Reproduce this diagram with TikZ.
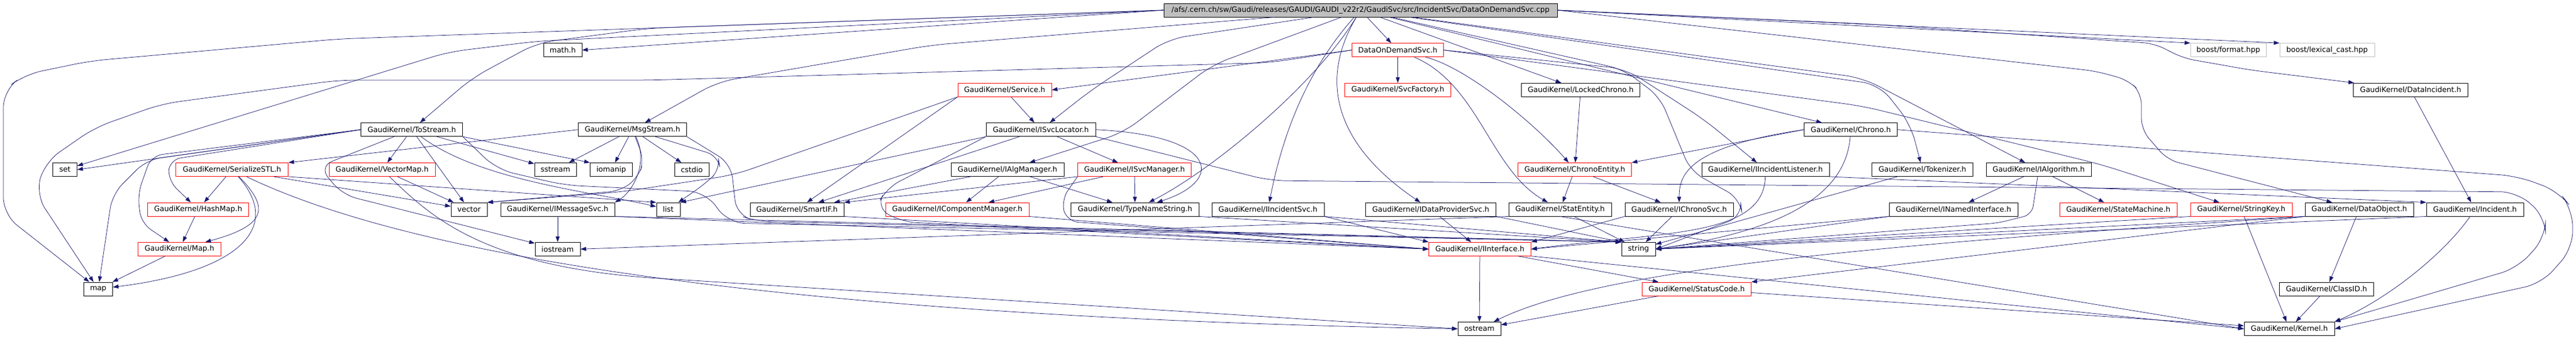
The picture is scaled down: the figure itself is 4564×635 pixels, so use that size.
\documentclass[tikz,border=0pt]{standalone}
\usepackage{fontspec}
\setmainfont{DejaVu Sans}
\usetikzlibrary{arrows.meta}
\definecolor{edgeblue}{RGB}{25,25,112}
\definecolor{topgray}{RGB}{191,191,191}
\tikzset{
  hdr/.style={draw=black, line width=0.9pt, inner sep=0pt, minimum height=24pt},
  redhdr/.style={hdr, draw=red},
  syshdr/.style={hdr, draw=topgray},
  inc/.style={draw=edgeblue, line width=0.75pt, -{Triangle[length=10pt,width=7pt]}}
}

\begin{document}
\begin{tikzpicture}[x=1pt, y=-1pt, font=\fontsize{13}{15}\selectfont]
\useasboundingbox (0,0) rectangle (4564,635);
% file itself
\node[hdr, fill=topgray, minimum width=697pt] (top) at (2410.5,18) {/afs/.cern.ch/sw/Gaudi/releases/GAUDI/GAUDI\_v22r2/GaudiSvc/src/IncidentSvc/DataOnDemandSvc.cpp};
% row 1
\node[hdr, minimum width=68pt] (mathh) at (997,88.7) {math.h};
\node[redhdr, minimum width=162pt] (dods) at (2476.5,88.7) {DataOnDemandSvc.h};
\node[syshdr, minimum width=134pt] (bformat) at (3948,88.7) {boost/format.hpp};
\node[syshdr, minimum width=168pt] (blexical) at (4123,88.7) {boost/lexical\_cast.hpp};
% row 2
\node[redhdr, minimum width=166pt] (service) at (1780,159.3) {GaudiKernel/Service.h};
\node[redhdr, minimum width=188pt] (svcfactory) at (2476.5,159.3) {GaudiKernel/SvcFactory.h};
\node[hdr, minimum width=210pt] (lockedchrono) at (2800.5,159.3) {GaudiKernel/LockedChrono.h};
\node[hdr, minimum width=203pt] (dataincident) at (4271,159.3) {GaudiKernel/DataIncident.h};
% row 3
\node[hdr, minimum width=180pt] (tostream) at (729.5,229.7) {GaudiKernel/ToStream.h};
\node[hdr, minimum width=192pt] (msgstream) at (1120.5,229.7) {GaudiKernel/MsgStream.h};
\node[hdr, minimum width=194pt] (isvclocator) at (1844,229.7) {GaudiKernel/ISvcLocator.h};
\node[hdr, minimum width=165pt] (chrono) at (3279,229.7) {GaudiKernel/Chrono.h};
% row 4
\node[hdr, minimum width=43pt] (set) at (115,300.5) {set};
\node[redhdr, minimum width=199pt] (serializestl) at (411,300.5) {GaudiKernel/SerializeSTL.h};
\node[redhdr, minimum width=188pt] (vectormap) at (677,300.5) {GaudiKernel/VectorMap.h};
\node[hdr, minimum width=74pt] (sstream) at (984,300.5) {sstream};
\node[hdr, minimum width=75pt] (iomanip) at (1083,300.5) {iomanip};
\node[hdr, minimum width=61pt] (cstdio) at (1225.7,300.5) {cstdio};
\node[hdr, minimum width=200pt] (ialgmanager) at (1785,300.5) {GaudiKernel/IAlgManager.h};
\node[redhdr, minimum width=201pt] (isvcmanager) at (2010,300.5) {GaudiKernel/ISvcManager.h};
\node[redhdr, minimum width=201pt] (chronoentity) at (2790,300.5) {GaudiKernel/ChronoEntity.h};
\node[hdr, minimum width=226pt] (iincidentlistener) at (3128,300.5) {GaudiKernel/IIncidentListener.h};
\node[hdr, minimum width=179pt] (tokenizer) at (3406,300.5) {GaudiKernel/Tokenizer.h};
\node[hdr, minimum width=186pt] (ialgorithm) at (3612,300.5) {GaudiKernel/IAlgorithm.h};
% row 5
\node[redhdr, minimum width=179pt] (hashmap) at (351,371) {GaudiKernel/HashMap.h};
\node[hdr, minimum width=64pt] (vector) at (831,371) {vector};
\node[hdr, minimum width=202pt] (imessagesvc) at (988,371) {GaudiKernel/IMessageSvc.h};
\node[hdr, minimum width=42pt] (list) at (1184,371) {list};
\node[hdr, minimum width=166pt] (smartif) at (1412,371) {GaudiKernel/SmartIF.h};
\node[redhdr, minimum width=254pt] (icomponentmanager) at (1696,371) {GaudiKernel/IComponentManager.h};
\node[hdr, minimum width=227pt] (typenamestring) at (2011,371) {GaudiKernel/TypeNameString.h};
\node[hdr, minimum width=199pt] (iincidentsvc) at (2246.5,371) {GaudiKernel/IIncidentSvc.h};
\node[hdr, minimum width=231pt] (idataprovidersvc) at (2535,371) {GaudiKernel/IDataProviderSvc.h};
\node[hdr, minimum width=182pt] (statentity) at (2764,371) {GaudiKernel/StatEntity.h};
\node[hdr, minimum width=192pt] (ichronosvc) at (2975,371) {GaudiKernel/IChronoSvc.h};
\node[hdr, minimum width=228pt] (inamedinterface) at (3461,371) {GaudiKernel/INamedInterface.h};
\node[redhdr, minimum width=208pt] (statemachine) at (3753,371) {GaudiKernel/StateMachine.h};
\node[redhdr, minimum width=180pt] (stringkey) at (3971,371) {GaudiKernel/StringKey.h};
\node[hdr, minimum width=192pt] (dataobject) at (4180,371) {GaudiKernel/DataObject.h};
\node[hdr, minimum width=172pt] (incident) at (4385,371) {GaudiKernel/Incident.h};
% row 6
\node[redhdr, minimum width=147pt] (mapH) at (318,441.3) {GaudiKernel/Map.h};
\node[hdr, minimum width=80pt] (iostream) at (988,441.3) {iostream};
\node[redhdr, minimum width=181pt] (iinterface) at (2622,441.3) {GaudiKernel/IInterface.h};
\node[hdr, minimum width=60pt] (string) at (2903,441.3) {string};
% row 7
\node[hdr, minimum width=51pt] (map) at (174,512) {map};
\node[redhdr, minimum width=193pt] (statuscode) at (3006,512) {GaudiKernel/StatusCode.h};
\node[hdr, minimum width=167pt] (classid) at (4122,512) {GaudiKernel/ClassID.h};
% row 8
\node[hdr, minimum width=76pt] (ostream) at (2621,582.5) {ostream};
\node[hdr, minimum width=160pt] (kernel) at (4056,582.5) {GaudiKernel/Kernel.h};

% straight includes
\foreach \a/\b in {top/dods, top/lockedchrono, top/chrono, dods/svcfactory,
    tostream/vectormap, tostream/vector, tostream/sstream, msgstream/sstream,
    msgstream/iomanip, msgstream/cstdio, serializestl/hashmap, serializestl/vector,
    hashmap/mapH, mapH/map, vectormap/vector, imessagesvc/iostream,
    service/isvclocator, isvclocator/isvcmanager, isvclocator/smartif,
    ialgmanager/icomponentmanager, ialgmanager/typenamestring, ialgmanager/smartif,
    isvcmanager/typenamestring, isvcmanager/icomponentmanager, idataprovidersvc/iinterface,
    chronoentity/statentity, chronoentity/ichronosvc, lockedchrono/chronoentity,
    ichronosvc/string, statentity/string, tokenizer/string, ialgorithm/inamedinterface,
    ialgorithm/statemachine, dataincident/incident, dataobject/classid, classid/kernel,
    stringkey/kernel, iinterface/ostream, iinterface/statuscode, statuscode/ostream,
    statuscode/kernel}
  \draw[inc] (\a) -- (\b);

% top file
\draw[inc, rounded corners=30pt] (top.west) -- (600,69) -- (160,108) -- (44,132) -- (6,160) -- (6,380) -- (map);
\draw[inc, rounded corners=30pt] (top.west) -- (952,73) -- (795,92) -- (set);
\draw[inc] (top.west) -- (mathh.east);
\draw[inc, rounded corners=30pt] (top.west) -- (1150,50) -- (952,76) -- (837,138) -- (tostream);
\draw[inc, rounded corners=30pt] (top) -- (1650,80) -- (1272,145) -- (msgstream);
\draw[inc, rounded corners=30pt] (top) -- (2071,69) -- (1933,160) -- (isvclocator);
\draw[inc, rounded corners=30pt] (top) -- (2148,115) -- (1990,235) -- (ialgmanager);
\draw[inc] (top) .. controls (2330,150) and (2150,300) .. (typenamestring);
\draw[inc] (top) .. controls (2310,130) and (2270,250) .. (iincidentsvc);
\draw[inc] (top) .. controls (2320,170) and (2400,280) .. (idataprovidersvc);
\draw[inc, rounded corners=30pt] (top) -- (3330,150) -- (3385,220) -- (tokenizer);
\draw[inc, rounded corners=30pt] (top) -- (3300,138) -- (ialgorithm);
\draw[inc] (top.east) -- (bformat.north west);
\draw[inc] (top.east) -- (blexical.north west);
\draw[inc, rounded corners=20pt] (top.east) -- (3300,42) -- (3817,77) -- (3868,103) -- (3987,124) -- (dataincident);
\draw[inc, rounded corners=20pt] (top.east) -- (3713,126) -- (3771,142) -- (3794,165) -- (3794,230) -- (3840,283) -- (dataobject);
\draw[inc, rounded corners=25pt] (top) -- (2876,123) -- (2941,172) -- (2995,303) -- (3083,352) -- (3087,383) -- (string.east);
% DataOnDemandSvc.h
\draw[inc] (dods.west) -- (service.east);
\draw[inc, rounded corners=30pt] (dods.west) -- (2250,111) -- (1150,142) -- (600,142) -- (287,184) -- (168,226) -- (80,287) -- (63,344) -- (map);
\draw[inc] (dods) .. controls (2600,120) and (2720,220) .. (chronoentity);
\draw[inc] (dods) .. controls (2620,150) and (2640,300) .. (statentity);
\draw[inc, rounded corners=30pt] (dods.east) -- (2880,122) -- (3018,211) -- (iincidentlistener);
\draw[inc, rounded corners=30pt] (dods.east) -- (3300,188) -- (3721,291) -- (stringkey);
% ToStream.h
\draw[inc] (tostream.west) -- (set.east);
\draw[inc, rounded corners=25pt] (tostream.west) -- (260,283) -- (199,344) -- (map);
\draw[inc, rounded corners=20pt] (tostream.west) -- (300,283) -- (298,320) -- (hashmap);
\draw[inc, rounded corners=20pt] (tostream.west) -- (268,276) -- (244,344) -- (250,395) -- (mapH);
\draw[inc] (tostream.south east) -- (iomanip.north west);
\draw[inc, rounded corners=25pt] (tostream) -- (565,295) -- (607,345) -- (iostream);
\draw[inc] (tostream) .. controls (850,320) and (1050,340) .. (list);
\draw[inc, rounded corners=30pt] (tostream.south east) -- (880,300) -- (1000,328) -- (1250,340) -- (1290,395) -- (string.north west);
% MsgStream.h
\draw[inc] (msgstream.west) -- (serializestl.north east);
\draw[inc] (msgstream) .. controls (1150,290) and (1120,340) .. (imessagesvc.north east);
\draw[inc, rounded corners=20pt] (msgstream) -- (1141,283) -- (1131,314) -- (1100,338) -- (vector.north east);
\draw[inc, rounded corners=20pt] (msgstream) -- (1272,276) -- (1276,300) -- (1250,325) -- (list);
\draw[inc, rounded corners=25pt] (msgstream.south east) -- (1295,290) -- (1305,380) -- (1340,392) -- (string.north west);
% SerializeSTL.h, VectorMap.h
\draw[inc] (serializestl) .. controls (480,370) and (470,400) .. (mapH);
\draw[inc] (serializestl) .. controls (500,400) and (430,480) .. (map);
\draw[inc] (serializestl.south east) -- (list.north west);
\draw[inc] (serializestl) .. controls (700,440) and (1300,560) .. (ostream.west);
\draw[inc] (vectormap) .. controls (760,380) and (850,470) .. (1150,492) -- (ostream.west);
% IMessageSvc.h
\draw[inc] (imessagesvc.south east) -- (iinterface.west);
\draw[inc] (imessagesvc.south east) -- (string.north west);
% Service.h
\draw[inc] (service.south west) -- (smartif);
\draw[inc, rounded corners=30pt] (service.south west) -- (1300,310) -- (1100,340) -- (vector.north east);
% ISvcLocator.h
\draw[inc] (isvclocator.east) .. controls (2160,240) and (2170,320) .. (typenamestring);
\draw[inc] (isvclocator.south west) -- (list.north east);
\draw[inc, rounded corners=25pt] (isvclocator.south west) -- (1571,333) -- (1552,368) -- (1598,393) -- (iinterface.west);
\draw[inc, rounded corners=30pt] (isvclocator.south east) -- (2250,320) -- (4460,340) -- (4510,385) -- (4510,420) -- (4460,475) -- (kernel.north east);
% ISvcManager.h
\draw[inc] (isvcmanager.south west) -- (smartif.north east);
\draw[inc, rounded corners=20pt] (isvcmanager.south west) -- (1880,355) -- (1890,392) -- (iinterface.west);
% interfaces to IInterface.h and string
\draw[inc] (icomponentmanager.south east) -- (iinterface.west);
\draw[inc] (smartif.south east) -- (iinterface.west);
\draw[inc] (typenamestring.south east) -- (string.north west);
\draw[inc] (iincidentsvc.south east) -- (iinterface.north west);
\draw[inc] (iincidentsvc.south east) -- (string.north west);
\draw[inc] (idataprovidersvc.south east) -- (string.north west);
\draw[inc] (ichronosvc.south west) -- (iinterface.north east);
% StatEntity.h
\draw[inc] (statentity.south) -- (kernel.west);
\draw[inc] (statentity.south west) -- (iostream.east);
% Chrono.h
\draw[inc] (chrono.west) -- (chronoentity.north east);
\draw[inc] (chrono.west) .. controls (2990,260) and (2975,310) .. (ichronosvc);
\draw[inc] (chrono) .. controls (3270,350) and (3150,410) .. (string.east);
\draw[inc, rounded corners=30pt] (chrono.east) -- (4460,312) -- (4533,339) -- (4558,371) -- (4558,440) -- (4503,502) -- (kernel.east);
% IIncidentListener.h
\draw[inc] (iincidentlistener) .. controls (3125,420) and (2950,410) .. (iinterface.east);
\draw[inc] (iincidentlistener.south east) -- (incident.north west);
% IAlgorithm.h, INamedInterface.h
\draw[inc, rounded corners=15pt] (ialgorithm) -- (3600,380) -- (3540,395) -- (string.east);
\draw[inc] (inamedinterface.south west) -- (iinterface.east);
\draw[inc] (inamedinterface.south west) -- (string.east);
% StringKey.h, DataObject.h, Incident.h
\draw[inc] (stringkey.south west) -- (string.east);
\draw[inc] (dataobject.south west) -- (statuscode.north east);
\draw[inc] (dataobject.south west) -- (string.east);
\draw[inc] (dataobject.south west) .. controls (3400,430) and (2850,470) .. (ostream);
\draw[inc] (incident) .. controls (4330,450) and (4230,530) .. (kernel.north east);
\draw[inc] (incident.south west) -- (string.east);
% IInterface.h
\draw[inc] (iinterface.south east) -- (kernel.west);
\end{tikzpicture}
\end{document}
